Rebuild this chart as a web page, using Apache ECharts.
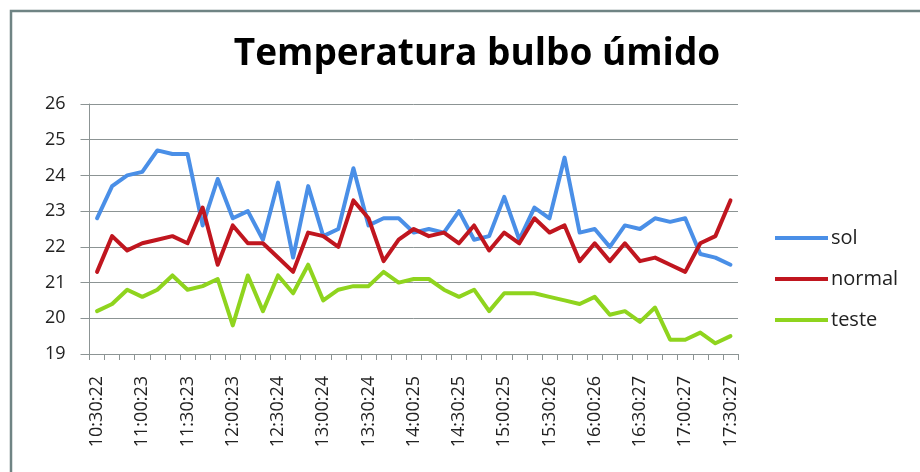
<!DOCTYPE html>
<html>
<head>
<meta charset="utf-8">
<script src="https://cdn.jsdelivr.net/npm/echarts@6/dist/echarts.min.js"></script>
<style>
  html, body { margin: 0; padding: 0; background: #fff; }
  #chart { width: 920px; height: 472px; }
</style>
</head>
<body>
<div id="chart"></div>
<script>
// horários das leituras (a cada 10 min, só 1 em 3 aparece no eixo)
const horarios = [
  "10:30:22", "10:40:22", "10:50:22", "11:00:23", "11:10:23", "11:20:23",
  "11:30:23", "11:40:23", "11:50:23", "12:00:23", "12:10:23", "12:20:23",
  "12:30:24", "12:40:24", "12:50:24", "13:00:24", "13:10:24", "13:20:24",
  "13:30:24", "13:40:24", "13:50:24", "14:00:25", "14:10:25", "14:20:25",
  "14:30:25", "14:40:25", "14:50:25", "15:00:25", "15:10:25", "15:20:25",
  "15:30:26", "15:40:26", "15:50:26", "16:00:26", "16:10:26", "16:20:26",
  "16:30:27", "16:40:27", "16:50:27", "17:00:27", "17:10:27", "17:20:27",
  "17:30:27"
];

const sol = [
  22.8, 23.7, 24.0, 24.1, 24.7, 24.6, 24.6, 22.6, 23.9, 22.8, 23.0, 22.2,
  23.8, 21.7, 23.7, 22.3, 22.5, 24.2, 22.6, 22.8, 22.8, 22.4, 22.5, 22.4,
  23.0, 22.2, 22.3, 23.4, 22.2, 23.1, 22.8, 24.5, 22.4, 22.5, 22.0, 22.6,
  22.5, 22.8, 22.7, 22.8, 21.8, 21.7, 21.5
];

const normal = [
  21.3, 22.3, 21.9, 22.1, 22.2, 22.3, 22.1, 23.1, 21.5, 22.6, 22.1, 22.1,
  21.7, 21.3, 22.4, 22.3, 22.0, 23.3, 22.8, 21.6, 22.2, 22.5, 22.3, 22.4,
  22.1, 22.6, 21.9, 22.4, 22.1, 22.8, 22.4, 22.6, 21.6, 22.1, 21.6, 22.1,
  21.6, 21.7, 21.5, 21.3, 22.1, 22.3, 23.3
];

const teste = [
  20.2, 20.4, 20.8, 20.6, 20.8, 21.2, 20.8, 20.9, 21.1, 19.8, 21.2, 20.2,
  21.2, 20.7, 21.5, 20.5, 20.8, 20.9, 20.9, 21.3, 21.0, 21.1, 21.1, 20.8,
  20.6, 20.8, 20.2, 20.7, 20.7, 20.7, 20.6, 20.5, 20.4, 20.6, 20.1, 20.2,
  19.9, 20.3, 19.4, 19.4, 19.6, 19.3, 19.5
];

const cores = ["#4a8fe7", "#c0161f", "#8fd41e"];
const fonte = "'Open Sans', 'Liberation Sans', sans-serif";

const chart = echarts.init(document.getElementById("chart"), null, { renderer: "canvas" });

const serie = (nome, dados, cor) => ({
  name: nome,
  type: "line",
  data: dados,
  symbol: "none",
  smooth: false,
  lineStyle: { color: cor, width: 4, cap: "round", join: "round" },
  itemStyle: { color: cor }
});

chart.setOption({
  animation: false,
  backgroundColor: "#fff",
  title: {
    text: "Temperatura bulbo úmido",
    left: 472,
    textAlign: "center",
    top: 31,
    textStyle: {
      fontFamily: fonte,
      fontWeight: "bold",
      fontSize: 37,
      color: "#000"
    }
  },
  graphic: [
    {
      type: "rect",
      shape: { x: 11, y: 11, width: 930, height: 480 },
      style: { fill: "none", stroke: "#6f8484", lineWidth: 2.5 },
      silent: true
    }
  ],
  legend: {
    orient: "vertical",
    left: 770,
    top: 223,
    icon: "rect",
    itemWidth: 53,
    itemHeight: 4,
    itemGap: 21,
    textStyle: { fontFamily: fonte, fontSize: 20, color: "#222", padding: [0, 0, 0, -2] },
    data: ["sol", "normal", "teste"]
  },
  grid: { left: 89.5, right: 182, top: 104, bottom: 118, containLabel: false },
  xAxis: {
    type: "category",
    data: horarios,
    boundaryGap: true,
    axisLine: { lineStyle: { color: "#8c9494", width: 1 } },
    axisTick: { show: true, interval: 0, length: 6, lineStyle: { color: "#8c9494" } },
    axisLabel: {
      interval: 2,
      rotate: 90,
      margin: 22,
      fontFamily: fonte,
      fontSize: 18,
      color: "#222"
    },
    splitLine: { show: false }
  },
  yAxis: {
    type: "value",
    min: 19,
    max: 26,
    interval: 1,
    axisLine: { show: true, lineStyle: { color: "#8c9494", width: 1 } },
    axisTick: { show: true, length: 9, lineStyle: { color: "#8c9494" } },
    axisLabel: {
      margin: 24,
      fontFamily: fonte,
      fontSize: 18,
      color: "#222"
    },
    splitLine: { lineStyle: { color: "#8c9494", width: 1 } }
  },
  series: [
    serie("sol", sol, cores[0]),
    serie("normal", normal, cores[1]),
    serie("teste", teste, cores[2])
  ]
});
</script>
</body>
</html>
